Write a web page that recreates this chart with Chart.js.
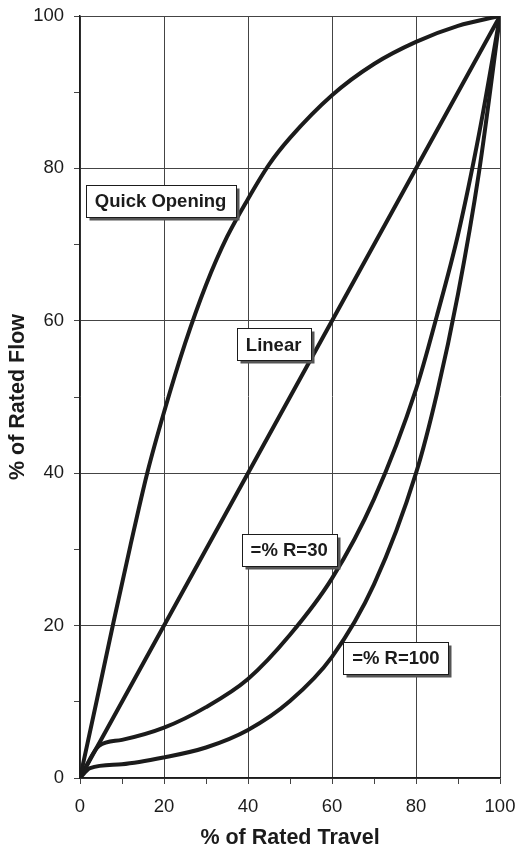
<!DOCTYPE html>
<html>
<head>
<meta charset="utf-8">
<script src="https://cdn.jsdelivr.net/npm/chart.js@4"></script>
<style>
  html, body { margin: 0; padding: 0; background: #fff; }
  #wrap { width: 518px; height: 851px; }
</style>
</head>
<body>
<div id="wrap"><canvas id="valveChart" width="518" height="851"></canvas></div>
<script>
// flow characteristic curves
const quickTravel = [0, 4, 8, 12, 16, 20, 25, 30, 35, 40, 45, 50, 60, 70, 80, 90, 100];
const quickFlow   = [0, 10.2, 20.5, 30.5, 40, 48, 57, 64.7, 71, 76, 80.5, 84, 89.6, 93.7, 96.6, 98.7, 100];

const linearTravel = [0, 100];
const linearFlow   = [0, 100];

const r30Travel = [0, 4.5, 10, 20, 30, 40, 50, 60, 70, 80, 85, 90, 95, 100];
const r30Flow   = [0, 4.2, 5, 6.6, 9.3, 13, 18.8, 26.2, 36.6, 51, 60.7, 71.3, 84.5, 100];

const r100Travel = [0, 2.4, 10, 20, 30, 40, 50, 60, 70, 80, 85, 90, 95, 100];
const r100Flow   = [0, 1.3, 1.8, 2.7, 4, 6.3, 10.1, 15.9, 25.4, 40, 50.5, 63.5, 79.5, 100];

const curveNames = ['Quick Opening', 'Linear', '=% R=30', '=% R=100'];

const FONT = "'Liberation Sans', Arial, Helvetica, sans-serif";
const ink = '#1b1b1b';
const gridGrey = '#444';

function toPoints(xs, ys) {
  return xs.map((x, i) => ({ x: x, y: ys[i] }));
}

// where the boxed names sit, in data units (travel, flow)
const nameAnchors = [[19.2, 75.7], [46.1, 56.9], [49.8, 29.9], [75.2, 15.7]];

const curveLabels = {
  id: 'curveLabels',
  afterDatasetsDraw(chart) {
    const { ctx, scales: { x, y } } = chart;
    ctx.save();
    ctx.font = 'bold 18.5px ' + FONT;
    ctx.textAlign = 'center';
    ctx.textBaseline = 'middle';
    for (let i = 0; i < curveNames.length; i++) {
      const cx = x.getPixelForValue(nameAnchors[i][0]);
      const cy = y.getPixelForValue(nameAnchors[i][1]);
      const w = Math.round(ctx.measureText(curveNames[i]).width + 18);
      const h = 32;
      const left = Math.round(cx - w / 2) + 0.5;
      const top = Math.round(cy - h / 2) + 0.5;
      ctx.fillStyle = '#555';
      ctx.fillRect(left + 3, top + 3, w, h);
      ctx.fillStyle = '#fff';
      ctx.fillRect(left, top, w, h);
      ctx.strokeStyle = ink;
      ctx.lineWidth = 1;
      ctx.strokeRect(left, top, w, h);
      ctx.fillStyle = ink;
      ctx.fillText(curveNames[i], cx, cy + 1);
    }
    ctx.restore();
  }
};

function curve(xs, ys) {
  return {
    data: toPoints(xs, ys),
    borderColor: ink,
    borderWidth: 4,
    pointRadius: 0,
    fill: false,
    cubicInterpolationMode: 'monotone',
    borderCapStyle: 'round',
    borderJoinStyle: 'round'
  };
}

const majorOnly = c => (c.tick && c.tick.value % 20 === 0) ? gridGrey : 'rgba(0,0,0,0)';

const ctx = document.getElementById('valveChart');
new Chart(ctx, {
  type: 'line',
  data: {
    datasets: [
      curve(quickTravel, quickFlow),
      curve(linearTravel, linearFlow),
      curve(r30Travel, r30Flow),
      curve(r100Travel, r100Flow)
    ]
  },
  options: {
    responsive: false,
    animation: false,
    devicePixelRatio: 1,
    layout: { padding: { top: 16, right: 18, bottom: 0, left: 0 } },
    plugins: {
      legend: { display: false },
      tooltip: { enabled: false }
    },
    scales: {
      x: {
        type: 'linear',
        min: 0,
        max: 100,
        afterFit(scale) {
          scale.height = 73;
          scale.paddingLeft = 0;
          scale.paddingRight = 0;
        },
        ticks: {
          stepSize: 10,
          autoSkip: false,
          maxRotation: 0,
          padding: 12,
          color: ink,
          font: { family: FONT, size: 18.5 },
          callback: v => v % 20 === 0 ? v : ''
        },
        grid: { color: majorOnly, lineWidth: 1, tickLength: 6, tickColor: gridGrey },
        border: { display: true, color: ink, width: 1.5 },
        title: {
          display: true,
          text: '% of Rated Travel',
          color: ink,
          font: { family: FONT, size: 21.5, weight: 'bold' },
          padding: { top: 0, bottom: 0 }
        }
      },
      y: {
        type: 'linear',
        min: 0,
        max: 100,
        afterFit(scale) {
          scale.width = 80;
          scale.paddingTop = 0;
          scale.paddingBottom = 0;
        },
        ticks: {
          stepSize: 10,
          autoSkip: false,
          padding: 10,
          color: ink,
          font: { family: FONT, size: 18.5 },
          callback: v => v % 20 === 0 ? v : ''
        },
        grid: { color: majorOnly, lineWidth: 1, tickLength: 6, tickColor: gridGrey },
        border: { display: true, color: ink, width: 1.5 },
        title: {
          display: true,
          text: '% of Rated Flow',
          color: ink,
          font: { family: FONT, size: 21.5, weight: 'bold' },
          padding: { top: 5, bottom: 0 }
        }
      }
    }
  },
  plugins: [curveLabels]
});
</script>
</body>
</html>
